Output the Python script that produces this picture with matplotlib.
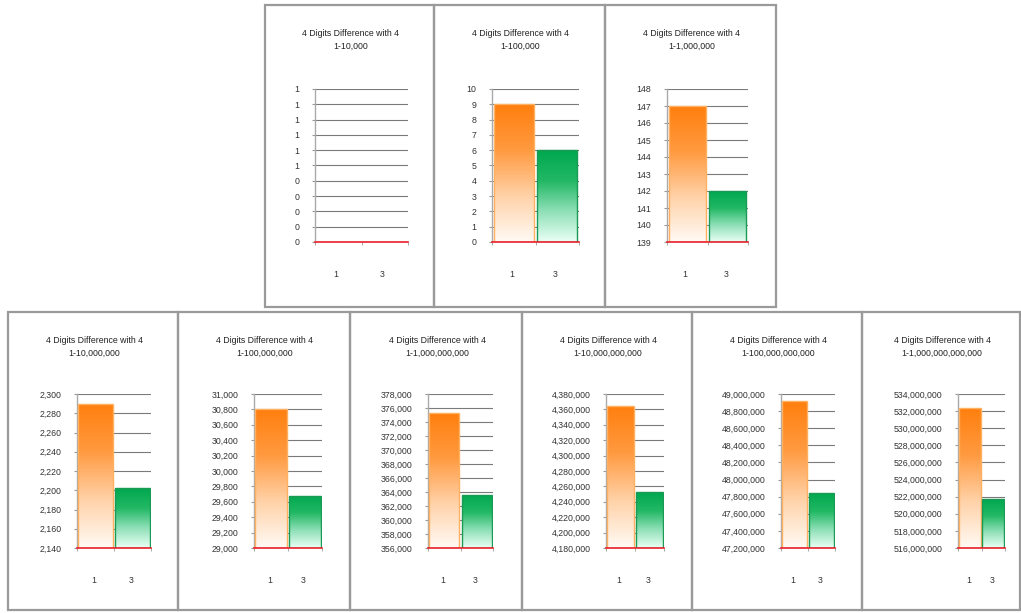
import numpy as np
import matplotlib
matplotlib.use("Agg")
import matplotlib.pyplot as plt
from matplotlib.patches import Rectangle
from matplotlib.colors import LinearSegmentedColormap
from matplotlib.ticker import FuncFormatter, MultipleLocator

# Range covered by each chart (second title line)
ranges = ["1-10,000", "1-100,000", "1-1,000,000",
          "1-10,000,000", "1-100,000,000", "1-1,000,000,000",
          "1-10,000,000,000", "1-100,000,000,000", "1-1,000,000,000,000"]
categories = ["1", "3"]

# Counts for categories "1" and "3"
count_1 = [0, 9, 147, 2290, 30800, 375220, 4364800, 48917600, 532320000]
count_3 = [0, 6, 142, 2202, 29678, 363620, 4252600, 47841500, 521700000]

# Value axis: min, max, step
y_min = [0, 0, 139, 2140, 29000, 356000, 4180000, 47200000, 516000000]
y_max = [1, 10, 148, 2300, 31000, 378000, 4380000, 49000000, 534000000]
y_step = [0.1, 1, 1, 20, 200, 2000, 20000, 200000, 2000000]

W, H = 1021, 613
fig = plt.figure(figsize=(W / 100, H / 100), dpi=100)
fig.patch.set_facecolor("white")

# Panel boxes (left, top, right, bottom) and plot areas in pixels
panels = [(265, 5, 434, 307), (434, 5, 605, 307), (605, 5, 776, 307),
          (8, 312, 178, 610), (178, 312, 350, 610), (350, 312, 522, 610),
          (522, 312, 692, 610), (692, 312, 862, 610), (862, 312, 1020, 610)]
plots = [(315, 89, 408, 242), (492, 89, 579, 242), (667, 89, 748, 242),
         (77, 394, 151, 548), (254, 394, 322, 548), (428, 394, 493, 548),
         (606, 394, 664, 548), (781, 394, 835, 548), (958, 394, 1005, 548)]

orange_cmap = LinearSegmentedColormap.from_list(
    "og", ["#fffaf5", "#ffd2a8", "#ff9a40", "#ff7f0e"])
green_cmap = LinearSegmentedColormap.from_list(
    "gg", ["#eafff5", "#8fe0b8", "#22b864", "#00a84f"])

grad = np.linspace(0, 1, 256).reshape(-1, 1)
FONT = "Liberation Sans"


def fmt(v, pos):
    return f"{v:,.0f}"


for i in range(len(ranges)):
    l, t, r, b = panels[i]
    fig.patches.append(Rectangle((l / W, 1 - b / H), (r - l) / W, (b - t) / H,
                                 transform=fig.transFigure, fill=False,
                                 edgecolor="#9a9a9a", linewidth=1.6))
    cx = (l + r) / 2 / W
    fig.text(cx + 1 / W, 1 - (t + 35) / H,
             "4 Digits Difference with 4\n" + ranges[i],
             ha="center", va="center", fontsize=6.3,
             family=FONT, linespacing=1.65, color="#222222")

    pl, pt, pr, pb = plots[i]
    ax = fig.add_axes([pl / W, 1 - pb / H, (pr - pl) / W, (pb - pt) / H])
    ax.set_xlim(0, 2)
    ax.set_ylim(y_min[i], y_max[i])
    ax.yaxis.set_major_locator(MultipleLocator(y_step[i]))
    ax.yaxis.set_major_formatter(FuncFormatter(fmt))
    ax.grid(axis="y", color="#7a7a7a", linewidth=0.8)
    ax.set_axisbelow(True)

    vals = [count_1[i], count_3[i]]
    cmaps = [orange_cmap, green_cmap]
    edges = ["#ffb060", "#1a9a55"]
    for k, v in enumerate(vals):
        bw = 0.92
        x0 = k + 0.5 - bw / 2
        if v <= y_min[i]:
            continue
        rect = Rectangle((x0, y_min[i]), bw, v - y_min[i],
                         facecolor="none", edgecolor=edges[k],
                         linewidth=1.0, zorder=3)
        ax.add_patch(rect)
        im = ax.imshow(grad, cmap=cmaps[k], aspect="auto", origin="lower",
                       extent=(x0, x0 + bw, y_min[i], v), zorder=2,
                       interpolation="bilinear")
        im.set_clip_path(rect)

    ax.set_xticks([0.45, 1.45])
    ax.set_xticklabels(categories)
    ax.set_xticks([0, 1, 2], minor=True)
    ax.tick_params(axis="x", which="major", length=0, pad=20,
                   labelsize=6.3, labelcolor="#333333")
    ax.tick_params(axis="x", which="minor", length=2.5, color="#999999",
                   direction="out")
    ax.tick_params(axis="y", length=2.2, color="#999999", pad=9,
                   labelsize=6.3, labelcolor="#333333")
    for lab in ax.get_xticklabels() + ax.get_yticklabels():
        lab.set_family(FONT)

    for s in ["top", "right"]:
        ax.spines[s].set_visible(False)
    ax.spines["left"].set_color("#aaaaaa")
    ax.spines["left"].set_linewidth(1.0)
    ax.spines["bottom"].set_color("#e8202a")
    ax.spines["bottom"].set_linewidth(1.2)
    ax.spines["bottom"].set_zorder(5)

fig.savefig("out.png", dpi=100, facecolor="white")
